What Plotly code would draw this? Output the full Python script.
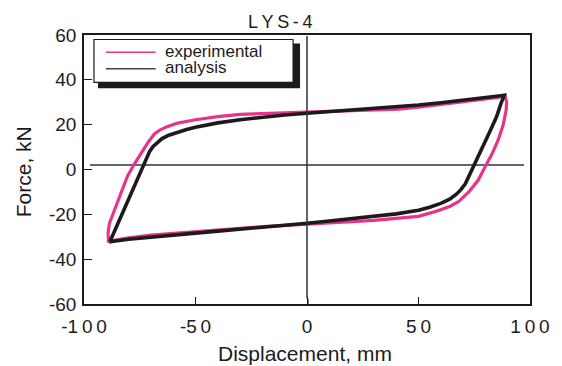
import plotly.graph_objects as go

# ---------------- data ----------------
analysis_disp = [-88.4, -86, -83, -80, -77, -74, -72, -70.5, -69, -67, -65, -62, -58, -54, -50, -40, -30, -20, -10,
                 0, 10, 20, 30, 40, 50, 60, 70, 80, 88.4,
                 87, 85, 82, 79, 76, 74, 72.5, 71, 69, 67, 64, 60, 55, 50, 40, 30, 20, 10,
                 0, -10, -20, -30, -40, -50, -60, -70, -80, -88.4]
analysis_force = [-32.2, -26.7, -19.8, -12.9, -6.0, 0.9, 5.0, 8.2, 10.3, 12.3, 13.8, 15.3, 16.7, 17.8, 18.8, 20.8, 22.2, 23.4, 24.3,
                  25.1, 25.8, 26.5, 27.2, 27.9, 28.8, 29.8, 30.9, 32.0, 33.1,
                  29.5, 23.5, 17.0, 10.5, 4.3, -0.2, -3.8, -6.4, -9.0, -11.0, -13.2, -15.1, -16.8, -18.2, -19.8, -21.0, -22.0, -23.0,
                  -24.0, -24.8, -25.7, -26.6, -27.5, -28.4, -29.2, -30.1, -31.1, -32.2]

exp_disp = [-89.0, -89.2, -88.6, -86, -83, -80.5, -77.7, -74, -71, -68.3, -66, -63, -58, -50, -40, -30, -20, -10,
            0, 10, 20, 30, 41, 50, 60, 70, 80, 85.7, 88.8,
            89.5, 89.3, 88, 85.7, 83, 80, 76.8, 73, 70, 67.9, 64, 58, 50, 41, 30, 20, 10,
            0, -10, -20, -30, -40, -50, -60, -70, -80, -86, -89.0]
exp_force = [-32.6, -28.0, -24.0, -17.0, -9.1, -3.0, 2.0, 8.0, 12.5, 16.0, 17.6, 19.0, 20.7, 22.2, 23.6, 24.6, 25.0, 25.3,
             25.5, 25.9, 26.2, 26.5, 26.9, 27.8, 29.0, 30.2, 31.4, 32.2, 33.1,
             30.0, 26.4, 20.0, 13.1, 7.0, 1.5, -4.7, -9.5, -12.2, -14.4, -16.5, -18.6, -20.9, -21.8, -22.7, -23.3, -23.8,
             -24.2, -24.9, -25.5, -26.2, -26.9, -27.6, -28.4, -29.3, -30.5, -31.5, -32.6]

# reference lines drawn in the original figure
hline_disp = [-97.3, 97.3]
hline_force = [2.0, 2.0]
vline_disp = [0, 0, 0.4, 0.4]
vline_force = [59.5, -57.0, -58.0, -60.0]

x_tickvals = [-100, -50, 0, 50, 100]
x_ticktext = ["-1\u20090\u20090", "-5\u20090", "0", "5\u20090", "1\u20090\u20090"]
y_tickvals = [-60, -40, -20, 0, 20, 40, 60]
y_ticktext = ["-60", "-40", "-20", "0", "20", "40", "60"]

title_text = "L\u2009Y\u2009S\u2009-\u20094"
legend_labels = ["experimental", "analysis"]

PINK = "#e6338b"
BLACK = "#1e1a1b"
FONT = "Arial, Liberation Sans, Helvetica, sans-serif"

# page body has an 8px margin; positions below are in window pixels
OFF = 8
W, H = 562 - OFF, 366 - OFF
L, R, T, B = 84 - OFF, 532 - OFF, 34.5 - OFF, 304.5 - OFF

def px(xp):
    return (xp - OFF - L) / (R - L)

def py(yp):
    return (B - (yp - OFF)) / (B - T)

fig = go.Figure()
fig.add_trace(go.Scatter(x=hline_disp, y=hline_force, mode="lines",
                         line=dict(color="#333333", width=1.5), hoverinfo="skip", showlegend=False))
fig.add_trace(go.Scatter(x=exp_disp, y=exp_force, mode="lines",
                         line=dict(color=PINK, width=3.2), name=legend_labels[0], showlegend=False))
fig.add_trace(go.Scatter(x=analysis_disp, y=analysis_force, mode="lines",
                         line=dict(color=BLACK, width=3.6), name=legend_labels[1], showlegend=False))
fig.add_trace(go.Scatter(x=vline_disp, y=vline_force, mode="lines",
                         line=dict(color="#333333", width=1.5), hoverinfo="skip", showlegend=False))

shapes = [
    # legend shadow
    dict(type="rect", xref="paper", yref="paper", x0=px(98), x1=px(301), y0=py(88), y1=py(43),
         fillcolor=BLACK, line=dict(width=0), layer="above"),
    # legend box
    dict(type="rect", xref="paper", yref="paper", x0=px(94), x1=px(294), y0=py(82), y1=py(39),
         fillcolor="white", line=dict(color=BLACK, width=1.2), layer="above"),
    dict(type="line", xref="paper", yref="paper", x0=px(106), x1=px(156), y0=py(51.7), y1=py(51.7),
         line=dict(color=PINK, width=1.5), layer="above"),
    dict(type="line", xref="paper", yref="paper", x0=px(106), x1=px(156), y0=py(68.3), y1=py(68.3),
         line=dict(color="#444444", width=1.5), layer="above"),
]

annotations = [
    dict(text=legend_labels[0], xref="paper", yref="paper", x=px(163), y=py(51), xanchor="left", yanchor="middle",
         showarrow=False, font=dict(size=17, color=BLACK, family=FONT)),
    dict(text=legend_labels[1], xref="paper", yref="paper", x=px(163), y=py(67.5), xanchor="left", yanchor="middle",
         showarrow=False, font=dict(size=17, color=BLACK, family=FONT)),
    dict(text=title_text, xref="paper", yref="paper", x=px(281), y=py(21), xanchor="center", yanchor="middle",
         showarrow=False, font=dict(size=18, color=BLACK, family=FONT)),
    dict(text="Displacement, mm", xref="paper", yref="paper", x=px(305.5), y=py(354), xanchor="center", yanchor="middle",
         showarrow=False, font=dict(size=21, color=BLACK, family=FONT)),
    dict(text="Force, kN", xref="paper", yref="paper", x=px(24), y=py(172), xanchor="center", yanchor="middle",
         textangle=-90, showarrow=False, font=dict(size=21, color=BLACK, family=FONT)),
]

fig.update_layout(
    width=W, height=H,
    margin=dict(l=L, r=W - R, t=T, b=H - B, pad=0),
    paper_bgcolor="white", plot_bgcolor="white",
    showlegend=False,
    shapes=shapes, annotations=annotations,
    font=dict(family=FONT, color=BLACK, size=19),
)
fig.update_xaxes(range=[-100, 100], tickvals=x_tickvals, ticktext=x_ticktext,
                 ticks="inside", ticklen=7, tickwidth=1.2, tickcolor=BLACK,
                 showline=True, linecolor=BLACK, linewidth=1.5, mirror=True,
                 ticklabelstandoff=4,
                 showgrid=False, zeroline=False, tickfont=dict(size=19, family=FONT, color=BLACK))
fig.update_yaxes(range=[-60, 60], tickvals=y_tickvals, ticktext=y_ticktext,
                 ticks="inside", ticklen=8, tickwidth=1.2, tickcolor=BLACK,
                 showline=True, linecolor=BLACK, linewidth=1.5, mirror=True,
                 ticklabelstandoff=2,
                 showgrid=False, zeroline=False, tickfont=dict(size=19, family=FONT, color=BLACK))

fig.write_html("out.html")
